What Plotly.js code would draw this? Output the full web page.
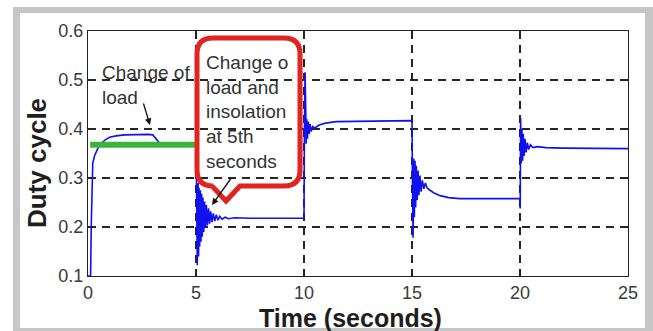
<!DOCTYPE html>
<html>
<head>
<meta charset="utf-8">
<script src="https://cdn.plot.ly/plotly-3.0.1.min.js"></script>
<style>html,body{margin:0;padding:0;background:#fff;}#chart{width:653px;height:331px;}</style>
</head>
<body>
<div id="chart"></div>
<script>
// Duty cycle response, one array pair per interval (time in s, duty cycle)
var t1 = [0, 0.12, 0.15, 0.18, 0.22, 0.3, 0.45, 0.6, 0.8, 1.0, 1.3, 1.7, 2.2, 2.8, 3.0, 3.15, 3.3, 3.6, 4.0, 4.5, 4.98];
var d1 = [0.1, 0.1, 0.2, 0.3, 0.33, 0.345, 0.36, 0.37, 0.378, 0.383, 0.386, 0.388, 0.389, 0.389, 0.388, 0.38, 0.372, 0.37, 0.369, 0.368, 0.368];

var t2 = [5.0, 5.02, 5.04, 5.06, 5.08, 5.10, 5.12, 5.14, 5.17, 5.20, 5.23, 5.26, 5.29, 5.32, 5.36, 5.40, 5.44, 5.48, 5.53, 5.58, 5.63, 5.68, 5.74, 5.80, 5.87, 5.94, 6.02, 6.10, 6.2, 6.35, 6.5, 6.8, 7.5, 8.5, 9.98];
var d2 = [0.368, 0.30, 0.20, 0.122, 0.24, 0.29, 0.14, 0.28, 0.16, 0.275, 0.17, 0.268, 0.18, 0.26, 0.19, 0.252, 0.198, 0.245, 0.203, 0.238, 0.207, 0.232, 0.21, 0.228, 0.212, 0.225, 0.214, 0.222, 0.216, 0.22, 0.217, 0.219, 0.218, 0.218, 0.218];

var t3 = [10.0, 10.02, 10.05, 10.08, 10.1, 10.13, 10.16, 10.2, 10.24, 10.28, 10.33, 10.4, 10.5, 10.7, 11.0, 11.5, 12.5, 14.98];
var d3 = [0.218, 0.40, 0.516, 0.44, 0.37, 0.42, 0.38, 0.415, 0.39, 0.41, 0.395, 0.405, 0.402, 0.408, 0.412, 0.415, 0.416, 0.417];

var t4 = [15.0, 15.02, 15.05, 15.08, 15.11, 15.14, 15.17, 15.2, 15.24, 15.28, 15.32, 15.37, 15.42, 15.48, 15.55, 15.62, 15.7, 15.8, 16.0, 16.3, 16.7, 17.2, 18, 19.98];
var d4 = [0.417, 0.30, 0.178, 0.34, 0.22, 0.335, 0.24, 0.325, 0.255, 0.315, 0.265, 0.305, 0.272, 0.295, 0.278, 0.29, 0.28, 0.276, 0.27, 0.264, 0.26, 0.258, 0.258, 0.258];

var t5 = [20.0, 20.01, 20.03, 20.06, 20.09, 20.12, 20.15, 20.19, 20.23, 20.28, 20.34, 20.4, 20.48, 20.6, 20.8, 21.2, 22, 25];
var d5 = [0.258, 0.238, 0.422, 0.33, 0.40, 0.335, 0.39, 0.345, 0.38, 0.352, 0.372, 0.358, 0.368, 0.362, 0.364, 0.362, 0.361, 0.36];

// Green reference bar (time span, level)
var greenT = [0.1, 4.95];
var greenD = [0.368, 0.368];

var xTicks = [0, 5, 10, 15, 20, 25];
var yTicks = [0.1, 0.2, 0.3, 0.4, 0.5, 0.6];

var time = t1.concat(t2, t3, t4, t5);
var duty = d1.concat(d2, d3, d4, d5);

// plot area geometry in pixels (for layout decorations)
var L = 88, R = 628, T = 31, B = 276;
function px(x) { return (x - L) / (R - L); }
function py(y) { return (B - y) / (B - T); }
function dx(x) { return (x - L) / (R - L) * 25; }
function dy(y) { return 0.1 + (B - y) / (B - T) * 0.5; }

// callout path (rounded box with tail) in data units
function calloutPath() {
  var l = 197, r = 300, t = 38, b = 186, k = 16;
  var P = function (x, y) { return dx(x).toFixed(4) + ',' + dy(y).toFixed(4); };
  return 'M' + P(l + k, t) + ' L' + P(r - k, t) + ' Q' + P(r, t) + ' ' + P(r, t + k) +
    ' L' + P(r, b - k) + ' Q' + P(r, b) + ' ' + P(r - k, b) +
    ' L' + P(240, b) + ' L' + P(226, 201) + ' L' + P(212, b) +
    ' L' + P(l + k, b) + ' Q' + P(l, b) + ' ' + P(l, b - k) +
    ' L' + P(l, t + k) + ' Q' + P(l, t) + ' ' + P(l + k, t) + ' Z';
}

var font = 'Arial, "Liberation Sans", sans-serif';

var traces = [
  { x: time, y: duty, type: 'scatter', mode: 'lines', line: { color: '#1010f0', width: 1.6 }, hoverinfo: 'skip' },
  { x: greenT, y: greenD, type: 'scatter', mode: 'lines', line: { color: '#3cb43c', width: 6 }, hoverinfo: 'skip' }
];

var axisCommon = {
  showline: true, linecolor: '#222', linewidth: 1.2, mirror: 'ticks',
  ticks: 'inside', ticklen: 5, tickcolor: '#222', tickwidth: 1,
  showgrid: true, gridcolor: '#262626', gridwidth: 1.2, griddash: '8px,6px',
  zeroline: false, tickfont: { family: font, size: 18, color: '#3a3a3a' }
};

var layout = {
  width: 653, height: 331,
  margin: { l: L, r: 653 - R, t: T, b: 331 - B, pad: 0 },
  paper_bgcolor: '#fff', plot_bgcolor: 'rgba(0,0,0,0)',
  showlegend: false,
  xaxis: Object.assign({}, axisCommon, { range: [0, 25], tickvals: xTicks, ticktext: xTicks.map(String) }),
  yaxis: Object.assign({}, axisCommon, { range: [0.1, 0.6], tickvals: yTicks, ticktext: yTicks.map(function (v) { return v.toFixed(1); }) }),
  shapes: [
    { type: 'rect', xref: 'paper', yref: 'paper', layer: 'below', x0: px(13), x1: px(653), y0: py(7), y1: py(331), fillcolor: '#c6c6c6', line: { width: 0 } },
    { type: 'rect', xref: 'paper', yref: 'paper', layer: 'below', x0: px(20), x1: px(645), y0: py(13), y1: py(328), fillcolor: '#ffffff', line: { width: 0 } },
    { type: 'path', xref: 'x', yref: 'y', layer: 'above', path: calloutPath(), line: { color: '#e2231f', width: 5 }, fillcolor: 'rgba(0,0,0,0)' }
  ],
  annotations: [
    { xref: 'paper', yref: 'paper', x: px(37), y: py(163), text: '<b>Duty cycle</b>', textangle: -90, showarrow: false, xanchor: 'center', yanchor: 'middle', font: { family: font, size: 26, color: '#1e1e1e' } },
    { xref: 'paper', yref: 'paper', x: px(350), y: py(318), text: '<b>Time (seconds)</b>', showarrow: false, xanchor: 'center', yanchor: 'middle', font: { family: font, size: 25, color: '#1e1e1e' } },
    { xref: 'x', yref: 'y', x: dx(100), y: dy(85), text: 'Change of<br>load', align: 'left', showarrow: false, xanchor: 'left', yanchor: 'middle', font: { family: font, size: 19, color: '#333' } },
    { xref: 'x', yref: 'y', x: dx(204), y: dy(112), text: 'Change o<br>load and<br>insolation<br>at 5th<br>seconds', align: 'left', showarrow: false, xanchor: 'left', yanchor: 'middle', font: { family: font, size: 19, color: '#333' } },
    { xref: 'x', yref: 'y', x: dx(150), y: dy(125), text: '', showarrow: true, axref: 'pixel', ayref: 'pixel', ax: -7, ay: -23, arrowhead: 2, arrowsize: 1, arrowwidth: 1.3, arrowcolor: '#111' },
    { xref: 'x', yref: 'y', x: dx(212), y: dy(205), text: '', showarrow: true, axref: 'pixel', ayref: 'pixel', ax: 20, ay: -28, arrowhead: 2, arrowsize: 1, arrowwidth: 1.3, arrowcolor: '#111' }
  ]
};

Plotly.newPlot('chart', traces, layout, { displayModeBar: false, staticPlot: true });
</script>
</body>
</html>
